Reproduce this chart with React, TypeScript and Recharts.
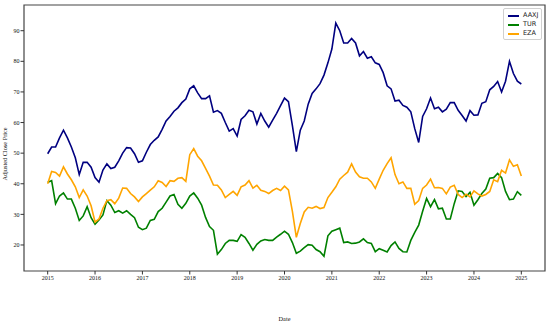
import { Label, Legend, Line, LineChart, ReferenceArea, XAxis, YAxis } from "recharts";

document.body.style.margin = "0";

// monthly closes, Jan 2015 .. Jan 2025
const START_YEAR = 2015;

const aaxj = [
  49.8, 52, 52, 55, 57.5, 55, 52, 48.5, 43, 47, 47, 45.4,
  42, 40.5, 44.5, 46.5, 45, 45.4, 47.5, 50, 51.8, 51.7, 49.8, 47,
  47.5, 50.3, 52.8, 54.2, 55.3, 57.8, 60.5, 62, 63.7, 64.8, 66.5, 67.7,
  71, 72, 69.7, 67.8, 67.8, 68.7, 63.4, 63.9, 63, 60, 57.2, 58,
  55.6, 61, 62.2, 64, 63.5, 59.5, 63, 60.5, 58.5, 60.8, 63, 65.5,
  68, 66.8, 59, 50.5, 57.5, 60.5, 66, 69.5, 71, 72.7, 75.5, 79.5,
  84, 92.5, 90, 86, 86, 87.5, 86, 81.8, 83.2, 81, 81.5, 79.5,
  79, 76.3, 72, 71, 67, 67.3, 65.6, 65, 63.5, 58, 53.5, 62,
  64.5, 68, 64.5, 65, 63.5, 64.4, 66.5, 66.5, 64, 62.3, 60.5, 63.9,
  62.4, 62.5, 66.3, 66.8, 70.7, 71.8, 73.4, 70, 73.5, 80, 76, 73.5,
  72.6,
];

const tur = [
  40.5, 41, 33.5, 36, 37, 35, 35, 32, 28, 29.5, 32.5, 28.9,
  26.8, 28.2, 29.8, 34.5, 33, 30.6, 31.2, 30.4, 31.2, 30, 28.9, 25.8,
  25, 25.5, 28, 28.4, 30.9, 32, 34, 36, 36.5, 33.3, 32, 33.6,
  36, 37, 35.3, 33, 29, 26, 24.8, 17, 18.5, 20.5, 21.5, 21.5,
  21.2, 23.4, 22.5, 20.5, 18.3, 20.2, 21.3, 21.8, 21.5, 21.5, 22.6, 23.5,
  24.5, 23.5, 20.8, 17.3, 18, 19.1, 20.1, 19.9, 18.5, 17.8, 16.3, 23,
  24.5, 25, 25.5, 20.8, 21, 20.5, 20.6, 21, 22, 20.8, 20.5, 17.8,
  18.8, 18.3, 17.7, 19.8, 21, 18.9, 17.8, 17.7, 21.5, 24.1, 26.5, 31,
  35.2, 32.5, 34.8, 31.8, 32, 28.5, 28.5, 33.5, 37.7, 37.5, 35.8, 37.2,
  33, 34.8, 36.8, 38.3, 41.8, 42, 43.4, 42, 37.5, 34.8, 35, 37.4,
  36.2,
];

const eza = [
  40, 44, 43.7, 42.5, 45.5, 43.2, 41.3, 39, 35.5, 38, 36, 32.8,
  27.5, 28.5, 32, 34.5, 34.8, 33.5, 35.3, 38.6, 38.5, 36.8, 35.7, 34.2,
  35.7, 36.8, 37.9, 39, 41, 40.4, 39.1, 41, 40.8, 41.8, 42, 40.8,
  49.5, 51.5, 49, 47.5, 45, 42.5, 39.6, 39.5, 38, 35.5, 36.5, 37.5,
  36.2, 39, 39.6, 41, 38.6, 39.5, 37.9, 37.5, 36.8, 37.8, 38.5, 37.8,
  39.2, 38, 31, 22.5, 27, 30.8, 32.3, 32, 32.6, 31.9, 32.2, 35.5,
  37.2, 39, 41.5, 42.7, 43.8, 46.5, 43.8, 42.3, 41.8, 41.8, 40.6, 38.5,
  41.5, 44.4, 46.6, 48.5, 43, 40, 40.6, 38.5, 38.5, 33.3, 34.5, 38.5,
  39.6, 41.5, 38.7, 38.8, 38.5, 36.7, 38.9, 39.5, 36.5, 35.5, 36.6, 35.7,
  37.7, 36.7, 36, 36.5, 37.5, 41.3, 40.7, 44.4, 43.5, 47.8, 45.7, 46.2,
  42.5,
];

const yearTicks = [2015, 2016, 2017, 2018, 2019, 2020, 2021, 2022, 2023, 2024, 2025];
const priceTicks = [20, 30, 40, 50, 60, 70, 80, 90];

const series = [
  { key: "AAXJ", color: "#000080" },
  { key: "TUR", color: "#008000" },
  { key: "EZA", color: "#FFA500" },
];

const data = aaxj.map((v, i) => ({
  t: START_YEAR + i / 12,
  AAXJ: v,
  TUR: tur[i],
  EZA: eza[i],
}));

const X_DOMAIN: [number, number] = [2014.5, 2025.5];
const Y_DOMAIN: [number, number] = [11.5, 98.4];

const tickStyle = { fontFamily: "Liberation Serif", fontSize: 6, fill: "#111" };

function LegendBox() {
  return (
    <div
      style={{
        border: "1px solid #d0d0d0",
        borderRadius: 2,
        background: "rgba(255,255,255,0.8)",
        padding: "2px 3px 1px 4px",
        fontFamily: "DejaVu Sans",
        fontSize: 6.5,
        color: "#222",
        lineHeight: "9px",
      }}
    >
      {series.map((s) => (
        <div key={s.key} style={{ display: "flex", alignItems: "center" }}>
          <span style={{ display: "inline-block", width: 11, height: 2, background: s.color, marginRight: 4 }} />
          {s.key}
        </div>
      ))}
    </div>
  );
}

export default function App() {
  return (
    <div style={{ width: 550, height: 326, background: "#fff" }}>
      <LineChart width={550} height={326} data={data} margin={{ top: 5, right: 5, bottom: 0, left: 0 }}>
        <XAxis
          type="number"
          dataKey="t"
          domain={X_DOMAIN}
          ticks={yearTicks}
          allowDataOverflow
          height={23}
          tick={tickStyle}
          tickSize={3.5}
          tickMargin={1}
          tickLine={{ stroke: "#333" }}
          axisLine={false}
        >
          <Label
            content={() => (
              <text x={284.5} y={321} textAnchor="middle" style={{ fontFamily: "Liberation Serif", fontSize: 6.3, fill: "#111" }}>
                Date
              </text>
            )}
          />
        </XAxis>
        <YAxis
          type="number"
          domain={Y_DOMAIN}
          ticks={priceTicks}
          allowDataOverflow
          width={24}
          tick={tickStyle}
          tickSize={3.5}
          tickMargin={1}
          tickLine={{ stroke: "#333" }}
          axisLine={false}
        >
          <Label
            content={() => (
              <text
                x={6.5}
                y={154}
                transform="rotate(-90 6.5 154)"
                textAnchor="middle"
                style={{ fontFamily: "Liberation Serif", fontSize: 6.3, fill: "#111" }}
              >
                Adjusted Close Price
              </text>
            )}
          />
        </YAxis>
        {series.map((s) => (
          <Line
            key={s.key}
            type="linear"
            dataKey={s.key}
            stroke={s.color}
            strokeWidth={1.6}
            dot={false}
            isAnimationActive={false}
          />
        ))}
        <ReferenceArea
          x1={X_DOMAIN[0]}
          x2={X_DOMAIN[1]}
          y1={Y_DOMAIN[0]}
          y2={Y_DOMAIN[1]}
          fill="none"
          stroke="#444"
          strokeWidth={1.2}
        />
        <Legend
          content={() => <LegendBox />}
          wrapperStyle={{ top: 8, left: 503, width: "auto" }}
        />
      </LineChart>
    </div>
  );
}
